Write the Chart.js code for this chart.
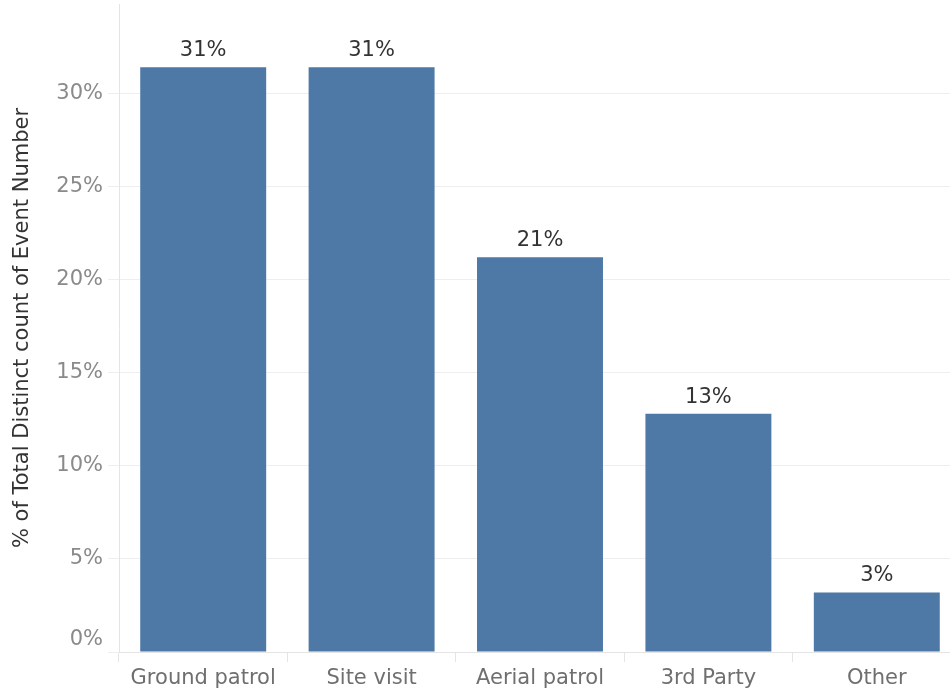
<!DOCTYPE html>
<html>
<head>
<meta charset="utf-8">
<script src="https://cdn.jsdelivr.net/npm/chart.js@4/dist/chart.umd.min.js"></script>
<style>
  html, body { margin: 0; padding: 0; background: #fff; overflow: hidden; }
  #wrap { position: relative; width: 975px; height: 692px; }
</style>
</head>
<body>
<div id="wrap"><canvas id="c"></canvas></div>
<script>
const categories = ["Ground patrol", "Site visit", "Aerial patrol", "3rd Party", "Other"];
const shares = [31.4, 31.4, 21.2, 12.8, 3.2];
const yTicks = [0, 5, 10, 15, 20, 25, 30];
const axisTitle = "% of Total Distinct count of Event Number";

const FONT = "'DejaVu Sans', sans-serif";

const valueLabels = {
  id: 'valueLabels',
  afterDatasetsDraw(chart) {
    const ctx = chart.ctx;
    const meta = chart.getDatasetMeta(0);
    ctx.save();
    ctx.font = "21px " + FONT;
    ctx.fillStyle = '#333333';
    ctx.textAlign = 'center';
    ctx.textBaseline = 'alphabetic';
    meta.data.forEach((bar, i) => {
      ctx.fillText(Math.round(shares[i]) + '%', bar.x, bar.y - 11);
    });
    ctx.restore();
  }
};

new Chart(document.getElementById('c'), {
  type: 'bar',
  data: {
    labels: categories,
    datasets: [{
      data: shares,
      backgroundColor: '#4e79a7',
      borderWidth: 0,
      categoryPercentage: 1,
      barPercentage: 0.748
    }]
  },
  options: {
    responsive: true,
    maintainAspectRatio: false,
    animation: false,
    layout: { padding: { top: 4, right: 14, left: 0, bottom: 0 } },
    plugins: { legend: { display: false }, tooltip: { enabled: false } },
    scales: {
      x: {
        afterFit(scale) { scale.height = 40; scale.paddingLeft = 0; scale.paddingRight = 0; },
        grid: { offset: true, drawOnChartArea: false, drawTicks: true, tickLength: 10, color: '#e4e4e4' },
        border: { display: true, color: '#e4e4e4' },
        ticks: { color: '#6f6f6f', font: { family: FONT, size: 21 }, padding: 4, maxRotation: 0, autoSkip: false }
      },
      y: {
        min: 0,
        max: 34.8,
        afterFit(scale) { scale.width = 119; scale.paddingTop = 0; scale.paddingBottom = 0; },
        afterBuildTicks(scale) { scale.ticks = yTicks.map(v => ({ value: v })); },
        grid: { color: '#eeeeee', tickLength: 11, drawTicks: true },
        border: { display: true, color: '#e4e4e4' },
        ticks: {
          color: '#8a8a8a',
          font: { family: FONT, size: 21 },
          padding: 5,
          callback: v => v === 0 ? ['0%', ''] : v + '%'
        },
        title: {
          display: true,
          text: axisTitle,
          color: '#333333',
          font: { family: FONT, size: 21 },
          padding: { top: 10, bottom: 0 }
        }
      }
    }
  },
  plugins: [valueLabels]
});
</script>
</body>
</html>
